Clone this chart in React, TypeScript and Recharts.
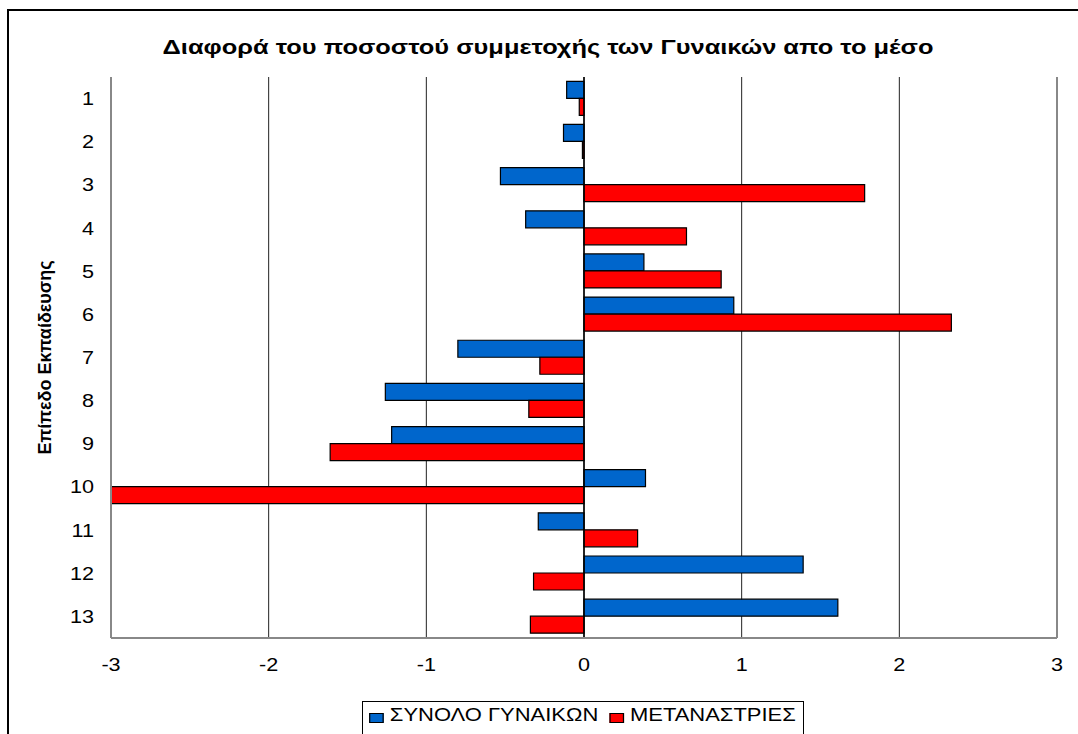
// Διαφορά ποσοστού συμμετοχής των γυναικών από το μέσο, ανά επίπεδο εκπαίδευσης
import { Bar, BarChart, CartesianGrid, Label, ReferenceLine, XAxis, YAxis } from 'recharts';

const categories = ['1', '2', '3', '4', '5', '6', '7', '8', '9', '10', '11', '12', '13'];
const synoloGynaikon = [-0.11, -0.13, -0.53, -0.37, 0.38, 0.95, -0.8, -1.26, -1.22, 0.39, -0.29, 1.39, 1.61];
const metanastries = [-0.03, -0.01, 1.78, 0.65, 0.87, 2.33, -0.28, -0.35, -1.61, -3.0, 0.34, -0.32, -0.34];
const xTicks = [-3, -2, -1, 0, 1, 2, 3];

const series = [
  { key: 'synolo', name: 'ΣΥΝΟΛΟ ΓΥΝΑΙΚΩΝ', color: '#0066CC' },
  { key: 'metan', name: 'ΜΕΤΑΝΑΣΤΡΙΕΣ', color: '#FF0000' },
];

const data = categories.map((c, i) => ({ cat: c, synolo: synoloGynaikon[i], metan: metanastries[i] }));

const font = 'Arial, "Liberation Sans", sans-serif';
const stretch = 1.2; // το πρωτότυπο είναι λίγο "τεντωμένο" οριζόντια

// tick με οριζόντιο τέντωμα, όπως στο αρχικό
function WideTick({ x, y, payload, textAnchor, shift }: any) {
  return (
    <text transform={`translate(${x},${y}) scale(${stretch},1)`} textAnchor={textAnchor} dy={shift}
      style={{ fontSize: 18, fontFamily: font, fill: '#000' }}>
      {payload.value}
    </text>
  );
}

function YLabel({ viewBox }: any) {
  const cy = viewBox.y + viewBox.height / 2;
  return (
    <text x={45} y={cy} transform={`rotate(-90 45 ${cy})`} textAnchor="middle" dominantBaseline="central"
      style={{ fontSize: 18, fontWeight: 'bold', fontFamily: font, fill: '#000' }}>
      Επίπεδο Εκπαίδευσης
    </text>
  );
}

export default function App() {
  return (
    <div style={{ position: 'absolute', left: 0, top: 0, width: 1078, height: 734, overflow: 'hidden', background: '#fff', fontFamily: font }}>
      <div style={{ position: 'absolute', left: 7, top: 9, width: 1100, height: 800, border: '2px solid #000' }} />
      <div style={{ position: 'absolute', left: 548, top: 35, transform: 'translateX(-50%)' }}>
        <div style={{ fontSize: 21, fontWeight: 'bold', whiteSpace: 'nowrap', transform: 'scaleX(1.21)' }}>
          Διαφορά του ποσοστού συμμετοχής των Γυναικών απο το μέσο
        </div>
      </div>
      <div style={{ position: 'absolute', left: 0, top: 0 }}>
        <BarChart width={1078} height={734} data={data} layout="vertical"
          margin={{ top: 77, right: 21, bottom: 66, left: 0 }} barCategoryGap="10%" barGap={0}>
          <CartesianGrid horizontal={false} stroke="#222" />
          <XAxis xAxisId="top" orientation="top" type="number" domain={[-3, 3]} ticks={xTicks} height={0}
            axisLine={{ stroke: '#000', strokeWidth: 1.5 }} tickLine={{ stroke: '#000' }} tickSize={5} tickFormatter={() => ''} />
          <XAxis type="number" domain={[-3, 3]} ticks={xTicks} height={30} tick={<WideTick shift="0.71em" />} tickSize={0} tickMargin={20}
            axisLine={{ stroke: '#888', strokeWidth: 2 }} />
          <YAxis type="category" dataKey="cat" width={111} tick={<WideTick shift="0.36em" />} tickSize={0} tickMargin={17}
            axisLine={{ stroke: '#888', strokeWidth: 2 }} tickLine={false}>
            <Label content={<YLabel />} />
          </YAxis>
          <ReferenceLine x={3} stroke="#888" strokeWidth={2} />
          {series.map((s) => (
            <Bar key={s.key} dataKey={s.key} name={s.name} fill={s.color} stroke="#000" strokeWidth={1.2} isAnimationActive={false} />
          ))}
          <ReferenceLine x={0} stroke="#000" strokeWidth={1.5} />
        </BarChart>
      </div>
      <div style={{ position: 'absolute', left: 362, top: 701, width: 442, height: 40, border: '1px solid #000', boxSizing: 'border-box' }}>
        <div style={{ display: 'flex', alignItems: 'center', transform: 'scaleX(1.22)', transformOrigin: 'left top', paddingLeft: 5, paddingTop: 3, fontSize: 18, whiteSpace: 'nowrap' }}>
          {series.map((s) => (
            <div key={s.key} style={{ display: 'flex', alignItems: 'center', marginRight: 9 }}>
              <span style={{ display: 'inline-block', width: 10, height: 8, background: s.color, border: '1px solid #000', marginRight: 5, marginTop: 4 }} />
              <span>{s.name}</span>
            </div>
          ))}
        </div>
      </div>
    </div>
  );
}
